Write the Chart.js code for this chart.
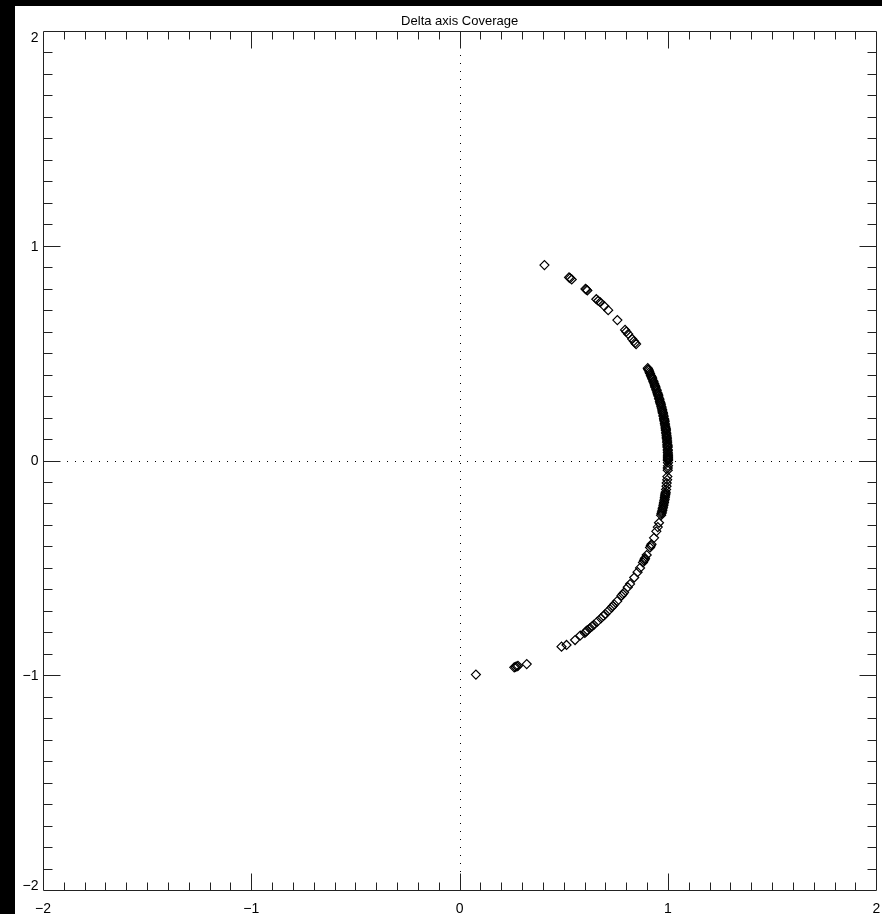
<!DOCTYPE html>
<html>
<head>
<meta charset="utf-8">
<script src="https://cdn.jsdelivr.net/npm/chart.js@4/dist/chart.umd.min.js"></script>
<style>
  html, body { margin: 0; padding: 0; background: #000; width: 882px; height: 914px; overflow: hidden; }
  #wrap { position: absolute; left: 15px; top: 6px; width: 867px; height: 908px; background: #fff; }
  canvas { display: block; }
</style>
</head>
<body>
<div id="wrap"><canvas id="c" width="867" height="908"></canvas></div>
<script>
// ---- data ----
const titleText = "Delta axis Coverage";
const axisMin = -2;
const axisMax = 2;
const majorTicks = [-2, -1, 0, 1, 2];
const tickLabels = ["\u22122", "\u22121", "0", "1", "2"];

// upper sparse arm
const armX = [0.407, 0.525, 0.530, 0.538, 0.604, 0.608, 0.613, 0.656, 0.665, 0.675, 0.694, 0.713,
              0.757, 0.794, 0.800, 0.809, 0.828, 0.836, 0.842, 0.847];
const armY = [0.910, 0.853, 0.849, 0.843, 0.799, 0.796, 0.792, 0.751, 0.744, 0.737, 0.719, 0.700,
              0.654, 0.608, 0.600, 0.589, 0.566, 0.556, 0.548, 0.542];

// dense part near the +x axis
const denseX = [
  0.903, 0.905, 0.908, 0.911, 0.914, 0.918, 0.921, 0.923, 0.925, 0.929, 0.931, 0.934, 0.937, 0.939,
  0.940, 0.944, 0.946, 0.949, 0.951, 0.953, 0.954, 0.957, 0.959, 0.961, 0.963, 0.964, 0.966, 0.968,
  0.970, 0.972, 0.973, 0.975, 0.976, 0.978, 0.979, 0.981, 0.982, 0.983, 0.984, 0.985, 0.986, 0.988,
  0.989, 0.990, 0.990, 0.991, 0.992, 0.993, 0.994, 0.994, 0.995, 0.996, 0.996, 0.997, 0.998, 0.998,
  0.998, 0.999, 0.999, 0.999, 1.000, 1.000, 1.000, 1.000, 1.000, 1.000, 1.000, 1.000
];
const denseY = [
  0.430, 0.425, 0.420, 0.412, 0.405, 0.396, 0.390, 0.385, 0.380, 0.370, 0.365, 0.357, 0.350, 0.345,
  0.340, 0.331, 0.325, 0.316, 0.310, 0.305, 0.300, 0.290, 0.285, 0.276, 0.270, 0.265, 0.260, 0.251,
  0.245, 0.236, 0.230, 0.224, 0.220, 0.211, 0.205, 0.196, 0.190, 0.185, 0.180, 0.171, 0.165, 0.156,
  0.150, 0.145, 0.140, 0.131, 0.125, 0.117, 0.110, 0.105, 0.100, 0.091, 0.085, 0.076, 0.070, 0.065,
  0.060, 0.050, 0.045, 0.037, 0.030, 0.025, 0.020, 0.014, 0.010, 0.005, 0.000, 0.002
];

// lower arc
const lowerX = [
  1.000, 1.000, 0.999, 0.999, 0.997, 0.996, 0.994, 0.993, 0.991, 0.989, 0.988, 0.987, 0.986, 0.985,
  0.984, 0.982, 0.981, 0.979, 0.978, 0.976, 0.974, 0.973, 0.971, 0.969, 0.967, 0.957, 0.951, 0.944,
  0.933, 0.921, 0.918, 0.914, 0.898, 0.890, 0.888, 0.885, 0.880, 0.866, 0.854, 0.838, 0.818, 0.807,
  0.789, 0.783, 0.777, 0.756, 0.742, 0.735, 0.729, 0.714, 0.699, 0.690, 0.678, 0.661, 0.644, 0.635,
  0.626, 0.613, 0.607, 0.601, 0.579, 0.554, 0.513, 0.489, 0.322, 0.280, 0.275, 0.268, 0.262, 0.078
];
const lowerY = [
  -0.010, -0.025, -0.035, -0.045, -0.075, -0.090, -0.105, -0.120, -0.135, -0.148, -0.155, -0.160, -0.165, -0.172,
  -0.180, -0.188, -0.195, -0.203, -0.210, -0.218, -0.225, -0.232, -0.240, -0.247, -0.255, -0.290, -0.310, -0.330,
  -0.360, -0.390, -0.397, -0.405, -0.440, -0.455, -0.460, -0.466, -0.475, -0.500, -0.520, -0.545, -0.575, -0.590,
  -0.615, -0.622, -0.630, -0.655, -0.670, -0.678, -0.685, -0.700, -0.715, -0.724, -0.735, -0.750, -0.765, -0.773,
  -0.780, -0.790, -0.796, -0.803, -0.815, -0.836, -0.859, -0.867, -0.948, -0.956, -0.959, -0.961, -0.963, -0.997
];

const deltaX = armX.concat(denseX, lowerX);
const deltaY = armY.concat(denseY, lowerY);
const points = deltaX.map((x, i) => ({ x: x, y: deltaY[i] }));

// ---- IDL-style frame plugin ----
const idlFrame = {
  id: 'idlFrame',
  beforeDatasetsDraw(chart) {
    const ctx = chart.ctx;
    const xs = chart.scales.x, ys = chart.scales.y;
    const a = chart.chartArea;
    ctx.save();
    ctx.strokeStyle = '#000';
    ctx.lineWidth = 1;
    ctx.setLineDash([1, 7]);
    const x0 = Math.round(xs.getPixelForValue(0)) + 0.5;
    const y0 = Math.round(ys.getPixelForValue(0)) + 0.5;
    ctx.beginPath();
    ctx.moveTo(x0, a.top); ctx.lineTo(x0, a.bottom);
    ctx.moveTo(a.left, y0); ctx.lineTo(a.right, y0);
    ctx.stroke();
    ctx.restore();
  },
  afterDraw(chart) {
    const ctx = chart.ctx;
    const xs = chart.scales.x, ys = chart.scales.y;
    const a = chart.chartArea;
    const L = Math.round(a.left) + 0.5, R = Math.round(a.right) + 0.5;
    const T = Math.round(a.top) + 0.5, B = Math.round(a.bottom) + 0.5;
    ctx.save();
    ctx.strokeStyle = '#222';
    ctx.lineWidth = 1;
    ctx.setLineDash([]);
    ctx.beginPath();
    ctx.rect(L, T, R - L, B - T);
    for (let k = axisMin * 10; k <= axisMax * 10; k++) {
      const v = k / 10;
      const major = (k % 10 === 0);
      const lenX = major ? 17 : 8;
      const lenY = major ? 17 : 9;
      const px = Math.round(xs.getPixelForValue(v)) + 0.5;
      const py = Math.round(ys.getPixelForValue(v)) + 0.5;
      if (k !== axisMin * 10 && k !== axisMax * 10) {
        ctx.moveTo(px, B); ctx.lineTo(px, B - lenX);
        ctx.moveTo(px, T); ctx.lineTo(px, T + lenX);
        ctx.moveTo(L, py); ctx.lineTo(L + lenY, py);
        ctx.moveTo(R, py); ctx.lineTo(R - lenY, py);
      }
    }
    ctx.stroke();

    ctx.fillStyle = '#000';
    ctx.font = '14px "Liberation Sans", Arial, sans-serif';
    majorTicks.forEach((v, i) => {
      const px = xs.getPixelForValue(v);
      ctx.textAlign = 'center';
      ctx.textBaseline = 'alphabetic';
      ctx.fillText(tickLabels[i], px, B + 22);
      const py = ys.getPixelForValue(v);
      ctx.textAlign = 'right';
      let ty;
      if (i === majorTicks.length - 1) { ctx.textBaseline = 'top'; ty = py; }
      else if (i === 0) { ctx.textBaseline = 'alphabetic'; ty = py; }
      else { ctx.textBaseline = 'middle'; ty = py + 1; }
      ctx.fillText(tickLabels[i], L - 5, ty);
    });

    ctx.font = '13px "Liberation Sans", Arial, sans-serif';
    ctx.textAlign = 'center';
    ctx.textBaseline = 'alphabetic';
    ctx.fillText(titleText, (a.left + a.right) / 2, T - 7);
    ctx.restore();
  }
};

new Chart(document.getElementById('c'), {
  type: 'scatter',
  data: {
    datasets: [{
      data: points,
      pointStyle: 'rectRot',
      pointRadius: 4.5,
      pointHoverRadius: 4.5,
      borderColor: '#000',
      backgroundColor: 'rgba(0,0,0,0)',
      borderWidth: 1.2
    }]
  },
  options: {
    responsive: false,
    devicePixelRatio: 1,
    animation: false,
    events: [],
    layout: { padding: { left: 28, right: 3, top: 25, bottom: 24 } },
    plugins: { legend: { display: false }, tooltip: { enabled: false }, title: { display: false } },
    scales: {
      x: { type: 'linear', min: axisMin, max: axisMax, display: false },
      y: { type: 'linear', min: axisMin, max: axisMax, display: false }
    }
  },
  plugins: [idlFrame]
});
</script>
</body>
</html>
